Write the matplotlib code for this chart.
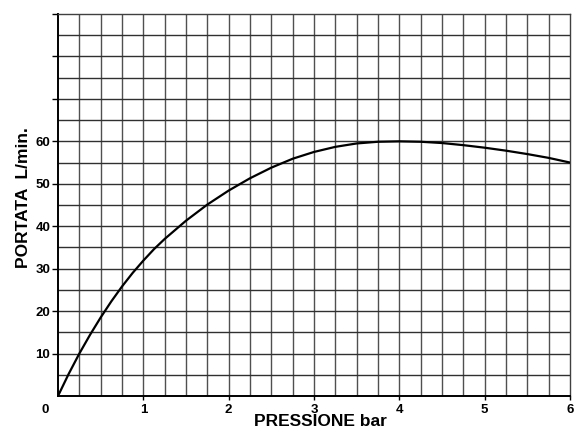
import matplotlib.pyplot as plt
import numpy as np

# Pressure (bar) vs flow (L/min)
pressione = [0.0, 0.125, 0.25, 0.375, 0.5, 0.625, 0.75, 0.875, 1.0, 1.125, 1.25, 1.5,
             1.75, 2.0, 2.25, 2.5, 2.75, 3.0, 3.25, 3.5, 3.75, 4.0, 4.25, 4.5, 4.75,
             5.0, 5.25, 5.5, 5.75, 6.0]
portata = [0.0, 5.2, 10.0, 14.4, 18.5, 22.3, 25.8, 29.0, 31.9, 34.6, 37.0, 41.3,
           45.1, 48.4, 51.3, 53.8, 55.9, 57.5, 58.7, 59.5, 59.9, 60.0, 59.9, 59.6, 59.1,
           58.5, 57.8, 57.0, 56.1, 55.0]

x_ticks = [1, 2, 3, 4, 5, 6]
x_labels = ["1", "2", "3", "4", "5", "6"]
y_ticks = [10, 20, 30, 40, 50, 60, 70, 80, 90]
y_labels = ["10", "20", "30", "40", "50", "60", "", "", ""]

plt.rcParams['font.family'] = ['Liberation Sans', 'DejaVu Sans']

fig = plt.figure(figsize=(5.79, 4.32), dpi=100)
ax = fig.add_axes([58 / 579, 1 - 396 / 432, 512 / 579, 382 / 432])

ax.set_xlim(0, 6)
ax.set_ylim(0, 90)

# grid every 0.25 bar and 5 L/min
for gx in np.arange(0.25, 6.0, 0.25):
    ax.axvline(gx, color='#505050', lw=1.0, zorder=1)
for gy in np.arange(5, 90, 5):
    ax.axhline(gy, color='#303030', lw=1.0, zorder=1)

ax.plot(pressione, portata, color='black', lw=1.6, zorder=3)

ax.set_xticks(x_ticks)
ax.set_xticklabels(x_labels, fontweight='bold', fontsize=9.5)
ax.set_yticks(y_ticks)
ax.set_yticklabels(y_labels, fontweight='bold', fontsize=9.5)
ax.tick_params(axis='x', direction='out', length=3, width=1, pad=2.5)
ax.tick_params(axis='y', direction='out', length=4.5, width=1, pad=1)

for side in ['left', 'bottom']:
    ax.spines[side].set_color('black')
    ax.spines[side].set_linewidth(1.4)
for side in ['top', 'right']:
    ax.spines[side].set_color('#404040')
    ax.spines[side].set_linewidth(1.0)

ax.annotate('0', xy=(0, 0), xycoords='axes fraction', xytext=(-9.5, -10),
            textcoords='offset points', ha='center', va='center',
            fontweight='bold', fontsize=9.5)

ax.set_xlabel("PRESSIONE bar", fontweight='bold', fontsize=12.5, va='top')
ax.xaxis.set_label_coords(0.512, -0.048)
ax.set_ylabel("PORTATA  L/min.", fontweight='bold', fontsize=12.5)
ax.yaxis.set_label_coords(-0.053, 0.52)

plt.savefig("out.png", dpi=100)
